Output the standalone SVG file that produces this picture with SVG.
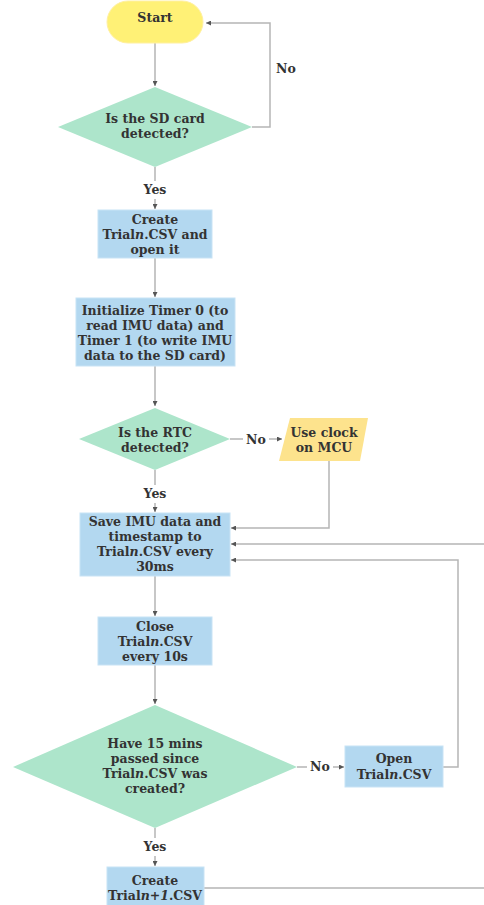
<svg xmlns="http://www.w3.org/2000/svg" width="484" height="905" viewBox="0 0 484 905">
<defs>
<marker id="ah" viewBox="0 0 10 10" refX="10" refY="5" markerWidth="5" markerHeight="5" orient="auto" markerUnits="userSpaceOnUse"><path d="M0,0 L10,5 L0,10 z" fill="#555"/></marker>
<style>
.ln{fill:none;stroke:#b5b5b5;stroke-width:1.5}
text{font-family:'DejaVu Serif','Liberation Serif',serif;font-weight:bold;font-size:12.5px;fill:#333;text-anchor:middle}
.term{fill:#fff176;stroke:#fff0a0;stroke-width:1}
.dec{fill:#ade5cb}
.proc{fill:#b3d8f0;stroke:#c8e3f5;stroke-width:1}
.io{fill:#fde38d}
.lb{fill:#fff}
</style>
</defs>
<rect width="484" height="905" fill="#fff"/>
<g id="connectors">
<path class="ln" d="M155,43 V86" marker-end="url(#ah)"/>
<path class="ln" d="M252,127 H270 V23 H206" marker-end="url(#ah)"/>
<path class="ln" d="M155,167 V209" marker-end="url(#ah)"/>
<path class="ln" d="M155,258 V297" marker-end="url(#ah)"/>
<path class="ln" d="M155,366 V406" marker-end="url(#ah)"/>
<path class="ln" d="M230,439 H282" marker-end="url(#ah)"/>
<path class="ln" d="M155,470 V512" marker-end="url(#ah)"/>
<path class="ln" d="M329,461 V528 H231" marker-end="url(#ah)"/>
<path class="ln" d="M484,544 H231" marker-end="url(#ah)"/>
<path class="ln" d="M443,767 H458 V560 H231" marker-end="url(#ah)"/>
<path class="ln" d="M155,576 V616" marker-end="url(#ah)"/>
<path class="ln" d="M155,665 V704" marker-end="url(#ah)"/>
<path class="ln" d="M297,767 H344" marker-end="url(#ah)"/>
<path class="ln" d="M155,828 V866" marker-end="url(#ah)"/>
<path class="ln" d="M204,888 H484"/>
<rect class="lb" x="274" y="59" width="24" height="18"/>
<text x="286" y="73">No</text>
<rect class="lb" x="139" y="181" width="32" height="18"/>
<text x="155" y="194">Yes</text>
<rect class="lb" x="243" y="431" width="26" height="17"/>
<text x="256" y="444">No</text>
<rect class="lb" x="139" y="485" width="32" height="18"/>
<text x="155" y="498">Yes</text>
<rect class="lb" x="307" y="758" width="26" height="17"/>
<text x="320" y="771">No</text>
<rect class="lb" x="139" y="838" width="32" height="18"/>
<text x="155" y="851">Yes</text>
</g>
<g id="start">
<rect class="term" x="107" y="1" width="96" height="42" rx="21"/>
<text x="155" y="22">Start</text>
</g>
<g id="sd-detected">
<polygon class="dec" points="155,87 252,127 155,167 58,127"/>
<text x="155" y="123">Is the SD card</text>
<text x="155" y="138">detected?</text>
</g>
<g id="create-trial">
<rect class="proc" x="98" y="210" width="114" height="48"/>
<text x="155" y="224">Create</text>
<text x="155" y="239">Trial<tspan font-style="italic">n</tspan>.CSV and</text>
<text x="155" y="254">open it</text>
</g>
<g id="init-timers">
<rect class="proc" x="76" y="298" width="159" height="68"/>
<text x="155" y="315">Initialize Timer 0 (to</text>
<text x="155" y="330">read IMU data) and</text>
<text x="155" y="345">Timer 1 (to write IMU</text>
<text x="155" y="360">data to the SD card)</text>
</g>
<g id="rtc-detected">
<polygon class="dec" points="155,408 230,439 155,470 79,439"/>
<text x="155" y="437">Is the RTC</text>
<text x="155" y="452">detected?</text>
</g>
<g id="use-clock">
<polygon class="io" points="290,418 368,418 360,461 279,461"/>
<text x="324" y="437">Use clock</text>
<text x="324" y="452">on MCU</text>
</g>
<g id="save-imu">
<rect class="proc" x="80" y="513" width="150" height="63"/>
<text x="155" y="526">Save IMU data and</text>
<text x="155" y="541">timestamp to</text>
<text x="155" y="556">Trial<tspan font-style="italic">n</tspan>.CSV every</text>
<text x="155" y="571">30ms</text>
</g>
<g id="close-trial">
<rect class="proc" x="98" y="617" width="114" height="48"/>
<text x="155" y="631">Close</text>
<text x="155" y="646">Trial<tspan font-style="italic">n</tspan>.CSV</text>
<text x="155" y="661">every 10s</text>
</g>
<g id="fifteen-mins">
<polygon class="dec" points="155,705 297,767 155,828 13,767"/>
<text x="155" y="748">Have 15 mins</text>
<text x="155" y="763">passed since</text>
<text x="155" y="778">Trial<tspan font-style="italic">n</tspan>.CSV was</text>
<text x="155" y="793">created?</text>
</g>
<g id="open-trial">
<rect class="proc" x="345" y="746" width="98" height="41"/>
<text x="394" y="763">Open</text>
<text x="394" y="779">Trial<tspan font-style="italic">n</tspan>.CSV</text>
</g>
<g id="create-next">
<rect class="proc" x="107" y="867" width="97" height="40"/>
<text x="155" y="885">Create</text>
<text x="155" y="900">Trial<tspan font-style="italic">n+1</tspan>.CSV</text>
</g>
</svg>
